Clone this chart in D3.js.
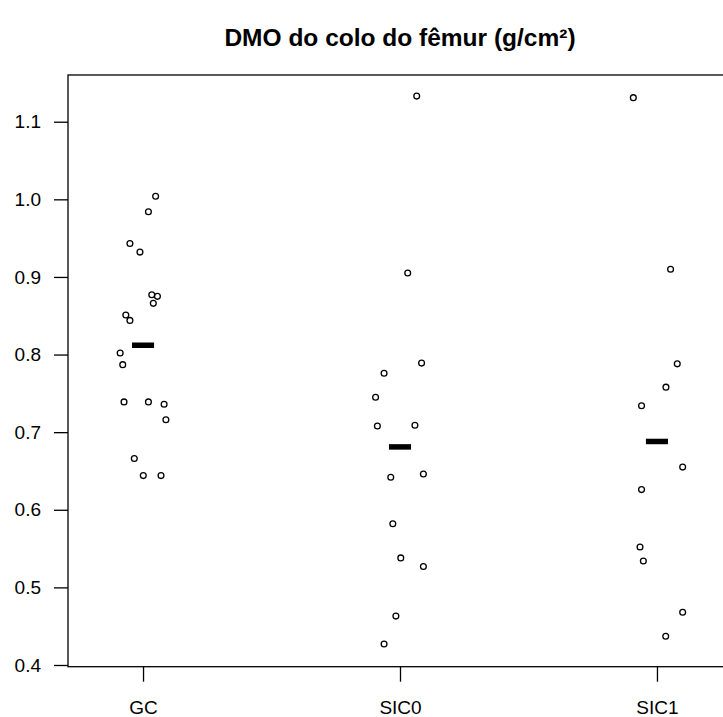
<html>
<head>
<meta charset="utf-8">
<script src="https://cdn.jsdelivr.net/npm/d3@7"></script>
<style>
  body { margin: 0; background: #fff; }
  svg text { font-family: "Liberation Sans", Arial, sans-serif; fill: #000; }
</style>
</head>
<body>
<svg id="chart" width="723" height="717"></svg>
<script>
// groups on the x axis
var groups = ["GC", "SIC0", "SIC1"];
var yTicks = [0.4, 0.5, 0.6, 0.7, 0.8, 0.9, 1.0, 1.1];

// BMD values per group
var gcValues   = [1.004, 0.984, 0.943, 0.932, 0.877, 0.875, 0.866, 0.851, 0.844,
                  0.802, 0.787, 0.739, 0.739, 0.736, 0.716, 0.666, 0.644, 0.644];
var sic0Values = [1.133, 0.905, 0.789, 0.776, 0.745, 0.708, 0.709, 0.642, 0.646,
                  0.582, 0.538, 0.527, 0.463, 0.427];
var sic1Values = [1.131, 0.910, 0.788, 0.758, 0.734, 0.655, 0.626, 0.552, 0.534,
                  0.468, 0.437];

// jittered x position of each point (group index units)
var gcJitter   = [1.049, 1.021, 0.949, 0.988, 1.034, 1.056, 1.040, 0.933, 0.949,
                  0.911, 0.921, 0.926, 1.021, 1.082, 1.089, 0.966, 1.001, 1.070];
var sic0Jitter = [2.065, 2.030, 2.084, 1.938, 1.905, 1.912, 2.058, 1.964, 2.091,
                  1.972, 2.003, 2.091, 1.984, 1.938];
var sic1Jitter = [2.908, 3.053, 3.079, 3.035, 2.940, 3.100, 2.940, 2.934, 2.947,
                  3.100, 3.034];

// group means (thick bars)
var means = [0.812, 0.681, 0.688];

var svg = d3.select("#chart");

var x = d3.scaleLinear().domain([0.708, 3.292]).range([68, 732]);
var y = d3.scaleLinear().domain([0.3978, 1.1602]).range([666.7, 75]);

var points = [];
[[gcValues, gcJitter], [sic0Values, sic0Jitter], [sic1Values, sic1Jitter]].forEach(function(g) {
  g[0].forEach(function(v, i) { points.push({x: g[1][i], v: v}); });
});

// box
svg.append("rect")
  .attr("x", x(0.708)).attr("y", y(1.1602))
  .attr("width", x(3.292) - x(0.708))
  .attr("height", y(0.3978) - y(1.1602))
  .attr("fill", "none").attr("stroke", "#000").attr("stroke-width", 1.3);

// y axis
var yAxis = svg.append("g")
  .attr("transform", "translate(" + x(0.708) + ",0)")
  .call(d3.axisLeft(y).tickValues(yTicks).tickSize(14).tickPadding(13)
    .tickFormat(d3.format(".1f")));
yAxis.select(".domain").remove();
yAxis.selectAll("line").attr("stroke", "#000").attr("stroke-width", 1.3);
yAxis.selectAll("text").style("font-size", "19px");

// x axis
var xAxis = svg.append("g")
  .attr("transform", "translate(0," + y(0.3978) + ")")
  .call(d3.axisBottom(x).tickValues([1, 2, 3]).tickSize(15).tickPadding(19)
    .tickFormat(function(d) { return groups[d - 1]; }));
xAxis.select(".domain").remove();
xAxis.selectAll("line").attr("stroke", "#000").attr("stroke-width", 1.3);
xAxis.selectAll("text").style("font-size", "19px");

// points
svg.append("g").selectAll("circle")
  .data(points)
  .enter().append("circle")
  .attr("cx", function(d) { return x(d.x); })
  .attr("cy", function(d) { return y(d.v); })
  .attr("r", 2.9)
  .attr("fill", "none")
  .attr("stroke", "#000")
  .attr("stroke-width", 1.3);

// mean bars
svg.append("g").selectAll("line")
  .data(means)
  .enter().append("line")
  .attr("x1", function(d, i) { return x(i + 1 - 0.043); })
  .attr("x2", function(d, i) { return x(i + 1 + 0.043); })
  .attr("y1", function(d) { return y(d); })
  .attr("y2", function(d) { return y(d); })
  .attr("stroke", "#000")
  .attr("stroke-width", 5.5);

// title
svg.append("text")
  .attr("x", x(2)).attr("y", 46)
  .attr("text-anchor", "middle")
  .style("font-size", "24.5px")
  .style("font-weight", "bold")
  .text("DMO do colo do fêmur (g/cm²)");
</script>
</body>
</html>
